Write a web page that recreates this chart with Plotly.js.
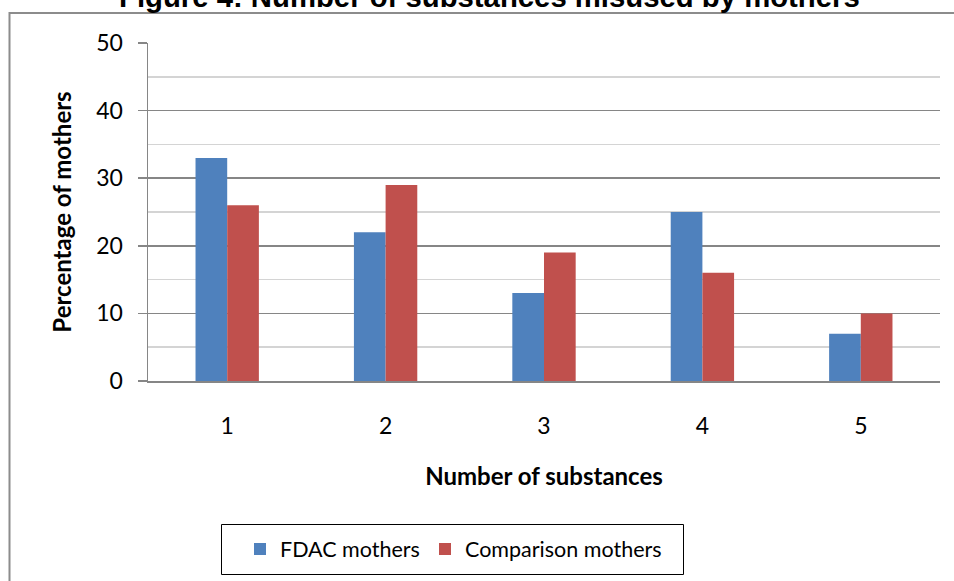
<!DOCTYPE html>
<html>
<head>
<meta charset="utf-8">
<script src="https://cdn.plot.ly/plotly-3.0.1.min.js"></script>
<style>
  html, body { margin: 0; padding: 0; background: #ffffff; }
  #chart { width: 954px; height: 581px; }
</style>
</head>
<body>
<div id="chart"></div>
<script>
// Number of substances misused, share of mothers in each group (%)
const substances = ['1', '2', '3', '4', '5'];
const fdacMothers = [33, 22, 13, 25, 7];
const comparisonMothers = [26, 29, 19, 16, 10];

const seriesNames = ['FDAC mothers', 'Comparison mothers'];
const seriesColors = ['#4F81BD', '#C0504D'];

const bodyFont = 'Lato, "Open Sans", "Noto Sans", sans-serif';

const traces = [
  {
    type: 'bar',
    name: seriesNames[0],
    x: substances,
    y: fdacMothers,
    marker: { color: seriesColors[0] },
    legend: 'legend',
    hoverinfo: 'skip'
  },
  {
    type: 'bar',
    name: seriesNames[1],
    x: substances,
    y: comparisonMothers,
    marker: { color: seriesColors[1] },
    legend: 'legend2',
    hoverinfo: 'skip'
  }
];

// plot area: 148..940 px horizontally, 43..381 px vertically
const L = 148, R = 14, T = 43, B = 200;
const plotW = 954 - L - R, plotH = 581 - T - B;
const px = x => (x - L) / plotW;          // page x -> paper x
const py = y => (581 - B - y) / plotH;    // page y -> paper y

const legendStyle = x => ({
  orientation: 'h',
  x: px(x),
  xanchor: 'left',
  y: py(549),
  yanchor: 'middle',
  borderwidth: 0,
  bgcolor: 'rgba(0,0,0,0)',
  font: { family: bodyFont, size: 21.5, color: '#000000' },
  itemclick: false,
  itemdoubleclick: false
});

const layout = {
  width: 954,
  height: 581,
  margin: { l: L, r: R, t: T, b: B },
  paper_bgcolor: '#ffffff',
  plot_bgcolor: '#ffffff',
  barmode: 'group',
  bargap: 0.6,
  bargroupgap: 0,
  showlegend: true,
  font: { family: bodyFont, color: '#000000' },
  xaxis: {
    type: 'category',
    showline: true,
    linecolor: '#868686',
    linewidth: 1.5,
    ticks: '',
    showgrid: false,
    zeroline: false,
    tickfont: { family: bodyFont, size: 23, color: '#000000' },
    ticklabelstandoff: 24,
    title: {
      text: '<b>Number of substances</b>',
      font: { family: bodyFont, size: 24, color: '#000000' },
      standoff: 30
    },
    automargin: false,
    fixedrange: true
  },
  yaxis: {
    range: [0, 50],
    dtick: 10,
    tick0: 0,
    showline: true,
    linecolor: '#868686',
    linewidth: 1.5,
    ticks: 'outside',
    ticklen: 9,
    tickwidth: 1.5,
    tickcolor: '#868686',
    showgrid: true,
    gridcolor: '#868686',
    gridwidth: 1.5,
    zeroline: false,
    minor: {
      dtick: 5,
      showgrid: true,
      gridcolor: '#d4d4d4',
      gridwidth: 1.5,
      ticks: ''
    },
    tickfont: { family: bodyFont, size: 23, color: '#000000' },
    ticklabelstandoff: 10,
    title: {
      text: '<b>Percentage of mothers</b>',
      font: { family: bodyFont, size: 24, color: '#000000' },
      standoff: 18
    },
    automargin: false,
    fixedrange: true
  },
  legend: legendStyle(240),
  legend2: legendStyle(425),
  annotations: [
    {
      text: '<b>Figure 4: Number of substances misused by mothers</b>',
      xref: 'paper', yref: 'paper',
      x: px(489), y: py(-3.5),
      xanchor: 'center', yanchor: 'middle',
      showarrow: false,
      font: { family: 'Liberation Sans, Arial, sans-serif', size: 29.3, color: '#000000' }
    }
  ],
  shapes: [
    {
      // chart frame
      type: 'rect',
      xref: 'paper', yref: 'paper',
      x0: px(9.5), x1: px(1000),
      y0: py(700), y1: py(13),
      line: { color: '#8c8c8c', width: 2 },
      fillcolor: 'rgba(0,0,0,0)',
      layer: 'below'
    },
    {
      // legend frame
      type: 'rect',
      xref: 'paper', yref: 'paper',
      x0: px(221.5), x1: px(683.5),
      y0: py(574.5), y1: py(524.5),
      line: { color: '#000000', width: 1 },
      fillcolor: 'rgba(0,0,0,0)',
      layer: 'below'
    }
  ]
};

Plotly.newPlot('chart', traces, layout, { staticPlot: true, displayModeBar: false });
</script>
</body>
</html>
